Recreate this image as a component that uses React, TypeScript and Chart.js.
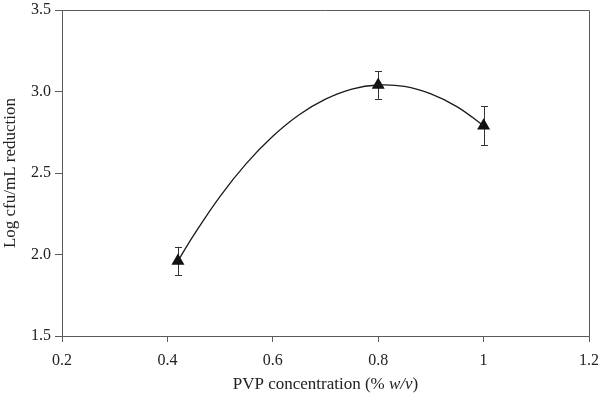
import React, { useEffect, useRef } from "react";
import { Chart, registerables } from "chart.js";

Chart.register(...registerables);

// Measured points
const concentrations = [0.42, 0.8, 1.0];
const reductions = [1.96, 3.04, 2.79];
const errors = [0.087, 0.085, 0.12];

// Fitted trend curve
const curveX = [0.42, 0.45, 0.5, 0.55, 0.6, 0.65, 0.7, 0.75, 0.8, 0.85, 0.9, 0.95, 1.0];
const curveY = [1.96, 2.119, 2.357, 2.559, 2.725, 2.857, 2.953, 3.015, 3.04, 3.031, 2.985, 2.906, 2.79];

const xTicks = [0.2, 0.4, 0.6, 0.8, 1.0, 1.2];
const yTicks = [1.5, 2.0, 2.5, 3.0, 3.5];

const FONT = "'Liberation Serif', 'DejaVu Serif', serif";
const AXIS_COLOR = "#5a5a5a";
const TEXT_COLOR = "#222";

export default function App() {
  const ref = useRef<HTMLCanvasElement | null>(null);

  useEffect(() => {
    document.body.style.margin = "0";
    const canvas = ref.current;
    if (!canvas) return;

    const errorBars = {
      id: "errorBars",
      beforeDatasetsDraw(chart: any) {
        const { ctx, scales } = chart;
        const xs = scales.x;
        const ys = scales.y;
        ctx.save();
        ctx.strokeStyle = "#333";
        ctx.lineWidth = 1;
        concentrations.forEach((c, i) => {
          const px = Math.round(xs.getPixelForValue(c)) + 0.5;
          const top = ys.getPixelForValue(reductions[i] + errors[i]);
          const bot = ys.getPixelForValue(reductions[i] - errors[i]);
          ctx.beginPath();
          ctx.moveTo(px, top);
          ctx.lineTo(px, bot);
          ctx.moveTo(px - 3.5, Math.round(top) + 0.5);
          ctx.lineTo(px + 3.5, Math.round(top) + 0.5);
          ctx.moveTo(px - 3.5, Math.round(bot) + 0.5);
          ctx.lineTo(px + 3.5, Math.round(bot) + 0.5);
          ctx.stroke();
        });
        ctx.restore();
      },
    };

    const frameAndTitle = {
      id: "frameAndTitle",
      afterDraw(chart: any) {
        const { ctx, chartArea } = chart;
        ctx.save();
        ctx.strokeStyle = AXIS_COLOR;
        ctx.lineWidth = 1;
        ctx.beginPath();
        ctx.moveTo(chartArea.left, chartArea.top + 0.5);
        ctx.lineTo(chartArea.right + 0.5, chartArea.top + 0.5);
        ctx.lineTo(chartArea.right + 0.5, chartArea.bottom);
        ctx.stroke();

        // x-axis title with italic w/v
        const parts = [
          { t: "PVP concentration (% ", f: `17px ${FONT}` },
          { t: "w/v", f: `italic 17px ${FONT}` },
          { t: ")", f: `17px ${FONT}` },
        ];
        let total = 0;
        parts.forEach((p) => {
          ctx.font = p.f;
          total += ctx.measureText(p.t).width;
        });
        let x = (chartArea.left + chartArea.right) / 2 - total / 2;
        const y = 385;
        ctx.fillStyle = TEXT_COLOR;
        ctx.textBaseline = "middle";
        ctx.textAlign = "left";
        parts.forEach((p) => {
          ctx.font = p.f;
          ctx.fillText(p.t, x, y);
          x += ctx.measureText(p.t).width;
        });
        ctx.restore();
      },
    };

    const chart = new Chart(canvas, {
      type: "scatter",
      data: {
        datasets: [
          {
            label: "fit",
            data: curveX.map((x, i) => ({ x, y: curveY[i] })),
            showLine: true,
            borderColor: "#1a1a1a",
            borderWidth: 1.3,
            pointRadius: 0,
            tension: 0.4,
            fill: false,
          },
          {
            label: "data",
            data: concentrations.map((x, i) => ({ x, y: reductions[i] })),
            pointStyle: "triangle",
            pointRadius: 7.5,
            backgroundColor: "#111",
            borderColor: "#111",
            borderWidth: 0,
          },
        ],
      },
      options: {
        animation: false,
        responsive: false,
        maintainAspectRatio: false,
        layout: { padding: { top: 10, right: 11, left: 0, bottom: 0 } },
        plugins: {
          legend: { display: false },
          tooltip: { enabled: false },
        },
        scales: {
          x: {
            type: "linear",
            min: 0.2,
            max: 1.2,
            afterBuildTicks: (scale: any) => {
              scale.ticks = xTicks.map((v) => ({ value: v }));
            },
            afterFit: (scale: any) => {
              scale.height = 397 - 336;
              scale.paddingLeft = 0;
              scale.paddingRight = 0;
            },
            ticks: {
              color: TEXT_COLOR,
              font: { family: FONT, size: 16 },
              padding: 9,
              callback: (v: any) => String(Number(Number(v).toFixed(1))),
            },
            grid: {
              drawOnChartArea: false,
              drawTicks: true,
              tickLength: 6,
              color: AXIS_COLOR,
            },
            border: { display: true, color: AXIS_COLOR, width: 1 },
          },
          y: {
            type: "linear",
            min: 1.5,
            max: 3.5,
            afterBuildTicks: (scale: any) => {
              scale.ticks = yTicks.map((v) => ({ value: v }));
            },
            afterFit: (scale: any) => {
              scale.width = 62;
              scale.paddingTop = 0;
              scale.paddingBottom = 0;
            },
            ticks: {
              color: TEXT_COLOR,
              font: { family: FONT, size: 16 },
              padding: 4,
              callback: (v: any) => Number(v).toFixed(1),
            },
            grid: {
              drawOnChartArea: false,
              drawTicks: true,
              tickLength: 7,
              color: AXIS_COLOR,
            },
            border: { display: true, color: AXIS_COLOR, width: 1 },
            title: {
              display: true,
              text: "Log cfu/mL reduction",
              color: TEXT_COLOR,
              font: { family: FONT, size: 17 },
              padding: { top: 0, bottom: 0 },
            },
          },
        },
      },
      plugins: [errorBars, frameAndTitle],
    });

    return () => chart.destroy();
  }, []);

  return (
    <div style={{ position: "absolute", left: 0, top: 0, width: 600, height: 397 }}>
      <canvas ref={ref} width={600} height={397} style={{ width: 600, height: 397, display: "block" }} />
    </div>
  );
}
